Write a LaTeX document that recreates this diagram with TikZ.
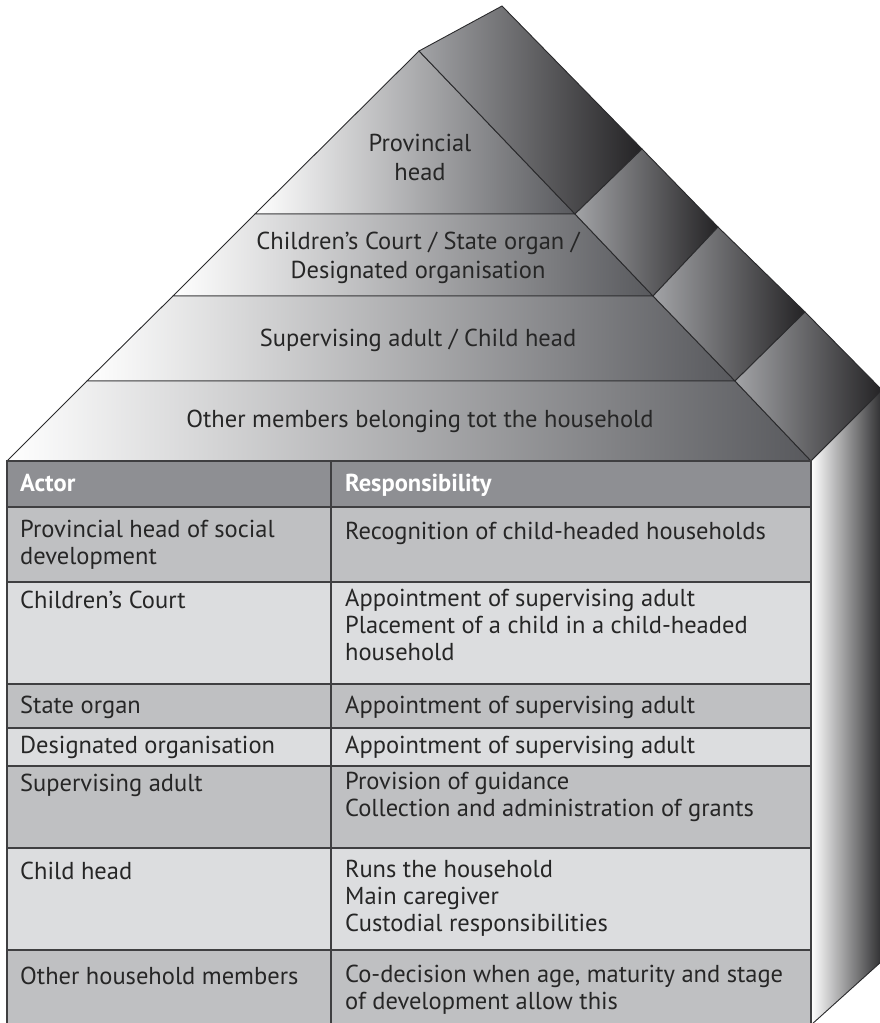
\documentclass[tikz,border=0pt]{standalone}
\usepackage{fontspec}
\setmainfont{PT Sans}
\definecolor{roofmid}{HTML}{C6C7C9}
\definecolor{roofdark}{HTML}{58595D}
\definecolor{slablight}{HTML}{A2A3A6}
\definecolor{slabdark}{HTML}{242325}
\definecolor{walldark}{HTML}{2E2E30}
\definecolor{headgray}{HTML}{8E8F93}
\definecolor{rowmid}{HTML}{BFC0C2}
\definecolor{rowlight}{HTML}{DCDDDF}
\definecolor{edge}{HTML}{2A2A2C}

\begin{document}
\begin{tikzpicture}[
  x=1pt,y=-1pt,
  roofband/.style={left color=white,middle color=roofmid,right color=roofdark,
    draw=edge,line width=0.9pt},
  slab/.style={left color=slablight,right color=slabdark,draw=edge,line width=0.9pt},
  wall/.style={left color=white,right color=walldark,draw=edge,line width=0.9pt},
  tableline/.style={draw=edge!90,line width=1.4pt},
  rooftext/.style={font=\fontsize{24.5}{29}\selectfont,align=center,text=black!85},
  % strut on the first line, so the top of a cell is fixed
  cell/.style={font=\fontsize{24.5}{27}\selectfont,anchor=north west,inner sep=0pt,
    align=left,text=black!85,execute at begin node=\strut},
  headcell/.style={cell,font=\fontsize{24.5}{27}\selectfont\bfseries,text=white},
  ]
  \useasboundingbox (0,0) rectangle (880,1023);
  % Roof, front face in four bands
  \path[roofband] (419,51) -- (575,214) -- (255,214) -- cycle;
  \path[roofband] (255,214) -- (575,214) -- (653,296) -- (173,296) -- cycle;
  \path[roofband] (173,296) -- (653,296) -- (735,381) -- (87,381) -- cycle;
  \path[roofband] (87,381) -- (735,381) -- (811,461) -- (7,461) -- cycle;
  % Roof, side face
  \path[slab] (419,51) -- (502,6) -- (642,149) -- (575,214) -- cycle;
  \path[slab] (575,214) -- (642,149) -- (718,227) -- (653,296) -- cycle;
  \path[slab] (653,296) -- (718,227) -- (805,312) -- (735,381) -- cycle;
  \path[slab] (735,381) -- (805,312) -- (882,390) -- (811,461) -- cycle;
  % Side wall
  \path[wall] (811,461) -- (882,390) -- (882,961) -- (811,1025) -- cycle;
  % Table rows
  \foreach \ya/\yb/\rowcol in {461/507/headgray,507/582/rowmid,582/684/rowlight,
    684/728/rowmid,728/766/rowlight,766/848/rowmid,848/950/rowlight,950/1024/rowmid}
    \fill[\rowcol] (7,\ya) rectangle (811,\yb);
  % Table lines
  \foreach \ya in {507,582,684,728,766,848,950}
    \draw[tableline] (7,\ya) -- (811,\ya);
  \foreach \xa in {7,331,811}
    \draw[tableline] (\xa,461) -- (\xa,1024);
  \draw[tableline,line width=2.2pt] (6,461) -- (812,461);
  % Roof labels
  \node[rooftext] (provincial) at (420,157) {Provincial\\head};
  \node[rooftext] (organs) at (418,258) {Children’s Court / State organ /\\Designated organisation};
  \node[rooftext] (supervisor) at (418,340) {Supervising adult / Child head};
  \node[rooftext] (members) at (420,421) {Other members belonging tot the household};
  % Header
  \node[headcell] (actor) at (20,472) {Actor};
  \node[headcell] (resp) at (345,472) {Responsibility};
  % Rows
  \node[cell] (a1) at (20,520) {Provincial head of social\\development};
  \node[cell] (r1) at (345,520) {Recognition of child-headed households};
  \node[cell] (a2) at (20,589) {Children’s Court};
  \node[cell] (r2) at (345,589) {Appointment of supervising adult\\Placement of a child in a child-headed\\household};
  \node[cell] (a3) at (20,694) {State organ};
  \node[cell] (r3) at (345,694) {Appointment of supervising adult};
  \node[cell] (a4) at (20,734) {Designated organisation};
  \node[cell] (r4) at (345,734) {Appointment of supervising adult};
  \node[cell] (a5) at (20,772) {Supervising adult};
  \node[cell] (r5) at (345,772) {Provision of guidance\\Collection and administration of grants};
  \node[cell] (a6) at (20,860) {Child head};
  \node[cell] (r6) at (345,860) {Runs the household\\Main caregiver\\Custodial responsibilities};
  \node[cell] (a7) at (20,965) {Other household members};
  \node[cell] (r7) at (345,965) {Co-decision when age, maturity and stage\\of development allow this};
\end{tikzpicture}
\end{document}
